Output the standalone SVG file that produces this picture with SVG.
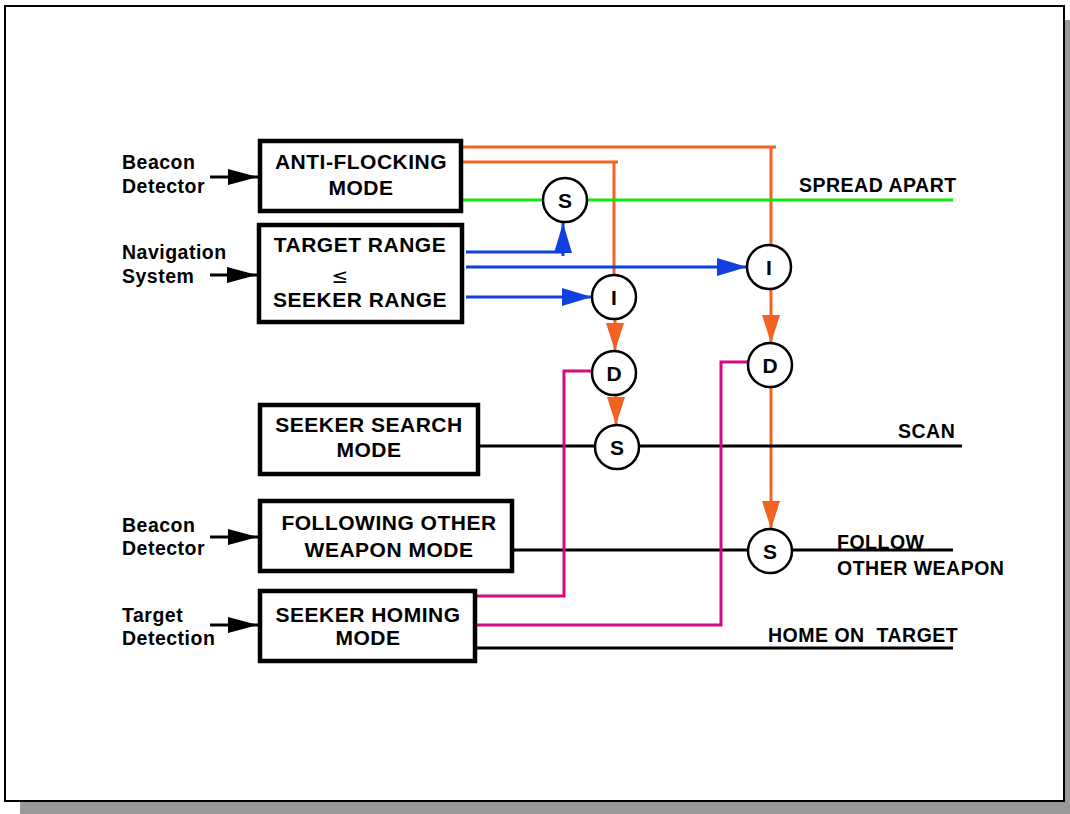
<svg xmlns="http://www.w3.org/2000/svg" width="1070" height="814" viewBox="0 0 1070 814">
<style>
text{font-family:"Liberation Sans",Arial,sans-serif;font-weight:bold;fill:#000}
.bt{font-size:21px;letter-spacing:0.5px;text-anchor:middle}
.lb{font-size:19.5px;letter-spacing:0.5px}
.ct{font-size:21px;text-anchor:middle}
.box{fill:#fff;stroke:#000;stroke-width:4.5}
.cir{fill:#fff;stroke:#000;stroke-width:2.5}
.blk{stroke:#000;stroke-width:3;fill:none}
.org{stroke:#f26222;stroke-width:3;fill:none}
.blu{stroke:#1040e0;stroke-width:3;fill:none}
.mag{stroke:#d8087f;stroke-width:3;fill:none}
.grn{stroke:#10e810;stroke-width:3;fill:none}
</style>
<defs>
<marker id="ab" markerUnits="userSpaceOnUse" markerWidth="32" markerHeight="18" refX="30" refY="8" orient="auto"><path d="M0,0 L30,8 L0,16 Z" fill="#000"/></marker>
<marker id="ao" markerUnits="userSpaceOnUse" markerWidth="30" markerHeight="20" refX="28" refY="9" orient="auto"><path d="M0,0 L28,9 L0,18 Z" fill="#f26222"/></marker>
<marker id="au" markerUnits="userSpaceOnUse" markerWidth="32" markerHeight="20" refX="30" refY="9" orient="auto"><path d="M0,0 L30,9 L0,18 Z" fill="#1040e0"/></marker>
</defs>
<g id="frame">
<rect x="20" y="20" width="1050" height="794" fill="#999"/>
<rect x="5" y="6" width="1059" height="795" fill="#fff" stroke="#000" stroke-width="2"/>
</g>
<g id="inputs">
<text class="lb" x="122" y="169">Beacon</text>
<text class="lb" x="122" y="193">Detector</text>
<text class="lb" x="122" y="259">Navigation</text>
<text class="lb" x="122" y="283">System</text>
<text class="lb" x="122" y="532">Beacon</text>
<text class="lb" x="122" y="555">Detector</text>
<text class="lb" x="122" y="622">Target</text>
<text class="lb" x="122" y="645">Detection</text>
</g>
<g id="connectors">
<line class="blk" x1="210" y1="177" x2="258" y2="177" marker-end="url(#ab)"/>
<line class="blk" x1="210" y1="275" x2="257" y2="275" marker-end="url(#ab)"/>
<line class="blk" x1="210" y1="537" x2="258" y2="537" marker-end="url(#ab)"/>
<line class="blk" x1="210" y1="625" x2="258" y2="625" marker-end="url(#ab)"/>
<path class="org" d="M461,147 H776 M771,147 V245"/>
<path class="org" d="M461,162 H618 M614,162 V275"/>
<line class="org" x1="615" y1="319" x2="615" y2="351" marker-end="url(#ao)"/>
<line class="org" x1="616" y1="395" x2="616" y2="425" marker-end="url(#ao)"/>
<line class="org" x1="771" y1="289" x2="771" y2="343" marker-end="url(#ao)"/>
<line class="org" x1="771" y1="387" x2="771" y2="529" marker-end="url(#ao)"/>
<path class="grn" d="M461,200 H543 M587,200 H953"/>
<path class="blu" d="M466,252 H563 V256"/>
<line class="blu" x1="563" y1="252" x2="563" y2="223" marker-end="url(#au)"/>
<line class="blu" x1="466" y1="267" x2="747" y2="267" marker-end="url(#au)"/>
<line class="blu" x1="466" y1="297" x2="592" y2="297" marker-end="url(#au)"/>
<path class="blk" d="M478,446 H595 M639,446 H962"/>
<path class="blk" d="M512,550 H748 M792,550 H953"/>
<path class="blk" d="M475,648 H953"/>
<path class="mag" d="M475,596 H564 V371 H597"/>
<path class="mag" d="M475,625 H721 V362 H752"/>
</g>
<g id="anti-flocking">
<rect class="box" x="260" y="141" width="201" height="70"/>
<text class="bt" x="361" y="169">ANTI-FLOCKING</text>
<text class="bt" x="361" y="195">MODE</text>
</g>
<g id="target-range">
<rect class="box" x="259" y="225" width="203" height="97"/>
<text class="bt" x="360" y="252">TARGET RANGE</text>
<text x="340" y="283" style="font-size:20px;font-weight:normal;text-anchor:middle;font-family:'DejaVu Sans',sans-serif">≤</text>
<text class="bt" x="360" y="307">SEEKER RANGE</text>
</g>
<g id="seeker-search">
<rect class="box" x="260" y="405" width="218" height="69"/>
<text class="bt" x="369" y="432">SEEKER SEARCH</text>
<text class="bt" x="369" y="457">MODE</text>
</g>
<g id="following">
<rect class="box" x="260" y="501" width="252" height="70"/>
<text class="bt" x="389" y="530">FOLLOWING OTHER</text>
<text class="bt" x="389" y="557">WEAPON MODE</text>
</g>
<g id="seeker-homing">
<rect class="box" x="260" y="591" width="215" height="70"/>
<text class="bt" x="368" y="622">SEEKER HOMING</text>
<text class="bt" x="368" y="645">MODE</text>
</g>
<g id="s1"><circle class="cir" cx="565" cy="200" r="22"/><text class="ct" x="565" y="208">S</text></g>
<g id="i1"><circle class="cir" cx="614" cy="297" r="22"/><text class="ct" x="614" y="305">I</text></g>
<g id="i2"><circle class="cir" cx="769" cy="267" r="22"/><text class="ct" x="769" y="275">I</text></g>
<g id="d1"><circle class="cir" cx="614" cy="373" r="22"/><text class="ct" x="614" y="381">D</text></g>
<g id="d2"><circle class="cir" cx="770" cy="365" r="22"/><text class="ct" x="770" y="373">D</text></g>
<g id="s2"><circle class="cir" cx="617" cy="447" r="22"/><text class="ct" x="617" y="455">S</text></g>
<g id="s3"><circle class="cir" cx="770" cy="551" r="22"/><text class="ct" x="770" y="559">S</text></g>
<g id="outputs">
<text class="lb" x="799" y="192">SPREAD APART</text>
<text class="lb" x="898" y="438">SCAN</text>
<text class="lb" x="837" y="549">FOLLOW</text>
<text class="lb" x="837" y="575">OTHER WEAPON</text>
<text class="lb" x="768" y="642" xml:space="preserve">HOME ON  TARGET</text>
</g>
</svg>
